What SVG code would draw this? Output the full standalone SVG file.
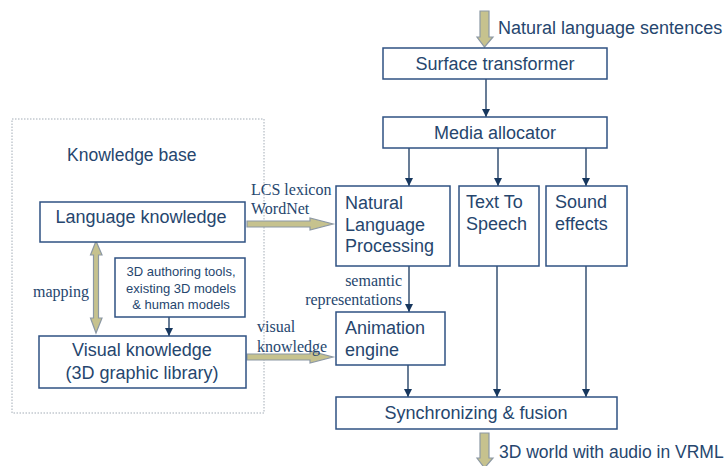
<svg xmlns="http://www.w3.org/2000/svg" width="728" height="466" viewBox="0 0 728 466">
<defs>
<marker id="ah" viewBox="0 0 8 8" refX="8" refY="4" markerWidth="8" markerHeight="8" markerUnits="userSpaceOnUse" orient="auto">
<path d="M0,0 L8,4 L0,8 Z" fill="#17375e"/>
</marker>
<style>
.box{fill:#fff;stroke:#2f5283;stroke-width:1.5}
.t{font-family:"Liberation Sans",Arial,sans-serif;font-size:18px;fill:#26466e}
.s{font-family:"Liberation Sans",Arial,sans-serif;font-size:13px;fill:#26466e}
.r{font-family:"Liberation Serif","Times New Roman",serif;font-size:16px;fill:#26466e}
.ln{stroke:#17375e;stroke-width:1.3;fill:none;marker-end:url(#ah)}
.blk{fill:#c6c28e;stroke:#8c98a4;stroke-width:1.2}
</style>
</defs>
<rect width="728" height="466" fill="#fff"/>

<g id="knowledge-base">
<rect x="12" y="119" width="252" height="294" fill="none" stroke="#a3acb6" stroke-width="1" stroke-dasharray="1.5,1.5"/>
<text class="t" x="67" y="161" style="font-size:17.5px">Knowledge base</text>
</g>

<g id="connectors">
<path class="blk" d="M480,11 H489 V37 H493 L484.5,47 L477,37 H480 Z"/>
<path class="blk" d="M480,433 H489 V458 H493 L484.5,468 L477,458 H480 Z"/>
<path class="blk" d="M96,241 L102,255 H98.5 V318 H102 L96,333 L90.5,318 H93.5 V255 H90.5 Z"/>
<path class="blk" d="M247,221 H310 V218 L333,224 L310,230 V227 H247 Z"/>
<path class="blk" d="M247,354 H310 V351 L333,357 L310,363 V360 H247 Z"/>
<line class="ln" x1="486" y1="79" x2="486" y2="117"/>
<line class="ln" x1="409" y1="148" x2="409" y2="186"/>
<line class="ln" x1="498" y1="148" x2="498" y2="186"/>
<line class="ln" x1="586" y1="148" x2="586" y2="186"/>
<line class="ln" x1="409" y1="266" x2="409" y2="312"/>
<line class="ln" x1="408" y1="365" x2="408" y2="397"/>
<line class="ln" x1="497" y1="266" x2="497" y2="397"/>
<line class="ln" x1="586" y1="266" x2="586" y2="397"/>
<line class="ln" x1="169" y1="317" x2="169" y2="336"/>
<text class="r" x="251" y="195">LCS lexicon</text>
<text class="r" x="251" y="214">WordNet</text>
<text class="r" x="257" y="332">visual</text>
<text class="r" x="257" y="352">knowledge</text>
<text class="r" x="402" y="286" text-anchor="end">semantic</text>
<text class="r" x="402" y="305" text-anchor="end">representations</text>
<text class="r" x="33" y="297">mapping</text>
<text class="t" x="498" y="34">Natural language sentences</text>
<text class="t" x="499" y="458" style="font-size:17.5px">3D world with audio in VRML</text>
</g>

<g id="surface-transformer">
<rect class="box" x="383" y="48" width="224" height="31"/>
<text class="t" x="495" y="70" text-anchor="middle">Surface transformer</text>
</g>
<g id="media-allocator">
<rect class="box" x="383" y="117" width="224" height="31"/>
<text class="t" x="495" y="139" text-anchor="middle">Media allocator</text>
</g>
<g id="nlp">
<rect class="box" x="336" y="186" width="114" height="80"/>
<text class="t" x="345" y="209">Natural</text>
<text class="t" x="345" y="231">Language</text>
<text class="t" x="345" y="252">Processing</text>
</g>
<g id="tts">
<rect class="box" x="459" y="186" width="80" height="80"/>
<text class="t" x="466" y="208">Text To</text>
<text class="t" x="466" y="230">Speech</text>
</g>
<g id="sound">
<rect class="box" x="546" y="186" width="81" height="80"/>
<text class="t" x="555" y="208">Sound</text>
<text class="t" x="555" y="230">effects</text>
</g>
<g id="animation">
<rect class="box" x="336" y="312" width="109" height="53"/>
<text class="t" x="345" y="334">Animation</text>
<text class="t" x="345" y="356">engine</text>
</g>
<g id="sync">
<rect class="box" x="336" y="397" width="281" height="32"/>
<text class="t" x="476" y="419" text-anchor="middle">Synchronizing &amp; fusion</text>
</g>
<g id="language-knowledge">
<rect class="box" x="40" y="202" width="205" height="40"/>
<text class="t" x="141" y="223" text-anchor="middle">Language knowledge</text>
</g>
<g id="authoring">
<rect class="box" x="115" y="258" width="130" height="59"/>
<text class="s" x="181" y="276" text-anchor="middle">3D authoring tools,</text>
<text class="s" x="181" y="293" text-anchor="middle">existing 3D models</text>
<text class="s" x="181" y="309" text-anchor="middle">&amp; human models</text>
</g>
<g id="visual-knowledge">
<rect class="box" x="39" y="336" width="207" height="52"/>
<text class="t" x="142" y="356" text-anchor="middle">Visual knowledge</text>
<text class="t" x="142" y="379" text-anchor="middle">(3D graphic library)</text>
</g>
</svg>
